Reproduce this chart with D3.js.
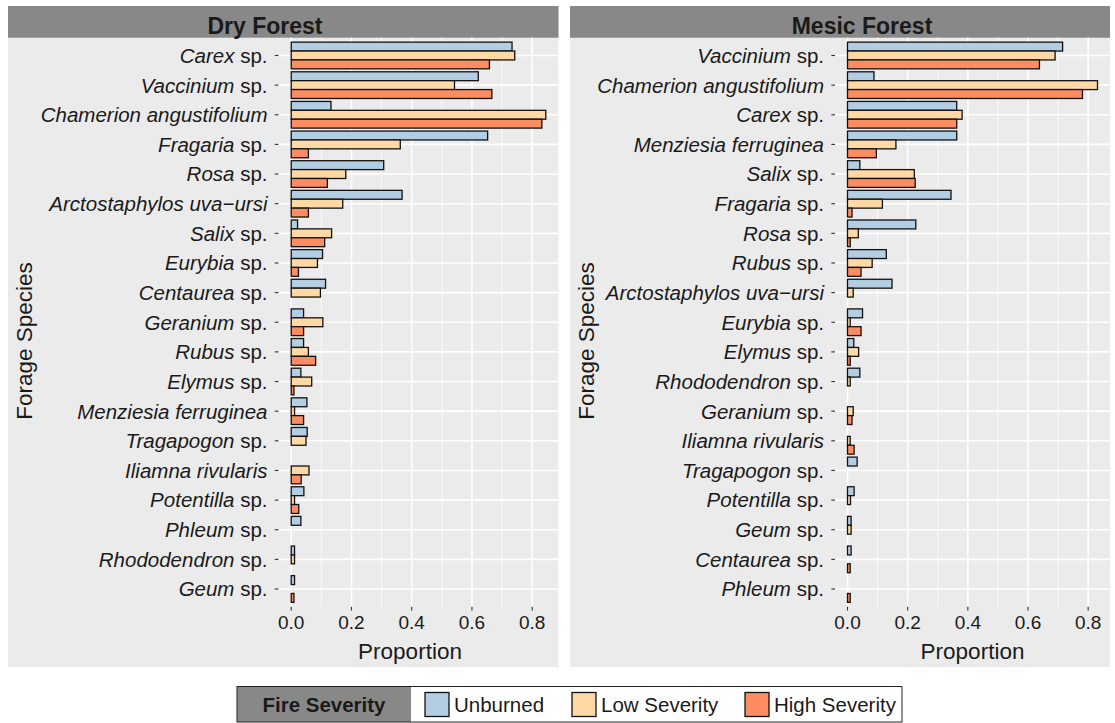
<!DOCTYPE html>
<html>
<head>
<meta charset="utf-8">
<script src="https://cdn.jsdelivr.net/npm/d3@7"></script>
<style>
  html, body { margin: 0; padding: 0; background: #ffffff; }
  svg { display: block; font-family: "Liberation Sans", Arial, Helvetica, sans-serif; }
</style>
</head>
<body>
<svg id="chart" width="1115" height="723"></svg>
<script>
// Forage species, ordered top to bottom within each forest type
const dryCategories = [
  "Carex sp.", "Vaccinium sp.", "Chamerion angustifolium", "Fragaria sp.", "Rosa sp.",
  "Arctostaphylos uva\u2212ursi", "Salix sp.", "Eurybia sp.", "Centaurea sp.", "Geranium sp.",
  "Rubus sp.", "Elymus sp.", "Menziesia ferruginea", "Tragapogon sp.", "Iliamna rivularis",
  "Potentilla sp.", "Phleum sp.", "Rhododendron sp.", "Geum sp."
];
const dryUnburned = [0.733, 0.621, 0.132, 0.652, 0.307, 0.368, 0.021, 0.104, 0.114, 0.041,
  0.041, 0.032, 0.052, 0.053, 0.000, 0.042, 0.032, 0.011, 0.011];
const dryLow = [0.742, 0.542, 0.845, 0.362, 0.181, 0.171, 0.134, 0.087, 0.097, 0.105,
  0.057, 0.068, 0.011, 0.049, 0.059, 0.011, 0.000, 0.011, 0.000];
const dryHigh = [0.658, 0.666, 0.832, 0.057, 0.120, 0.057, 0.111, 0.024, 0.000, 0.041,
  0.081, 0.009, 0.041, 0.000, 0.033, 0.025, 0.000, 0.000, 0.009];

const mesicCategories = [
  "Vaccinium sp.", "Chamerion angustifolium", "Carex sp.", "Menziesia ferruginea", "Salix sp.",
  "Fragaria sp.", "Rosa sp.", "Rubus sp.", "Arctostaphylos uva\u2212ursi", "Eurybia sp.",
  "Elymus sp.", "Rhododendron sp.", "Geranium sp.", "Iliamna rivularis", "Tragapogon sp.",
  "Potentilla sp.", "Geum sp.", "Centaurea sp.", "Phleum sp."
];
const mesicUnburned = [0.715, 0.088, 0.363, 0.363, 0.041, 0.344, 0.227, 0.129, 0.148, 0.050,
  0.021, 0.041, 0.000, 0.000, 0.032, 0.022, 0.012, 0.012, 0.000];
const mesicLow = [0.690, 0.831, 0.381, 0.161, 0.222, 0.116, 0.036, 0.082, 0.019, 0.009,
  0.037, 0.009, 0.019, 0.009, 0.000, 0.010, 0.012, 0.000, 0.000];
const mesicHigh = [0.638, 0.781, 0.363, 0.096, 0.225, 0.015, 0.009, 0.045, 0.000, 0.045,
  0.009, 0.000, 0.015, 0.022, 0.000, 0.000, 0.000, 0.009, 0.009];

const severities = ["Unburned", "Low Severity", "High Severity"];
const severityColors = ["#B3CDE3", "#FED9A6", "#FC8D62"];
const xTicks = [0, 0.2, 0.4, 0.6, 0.8];
const xMinor = [0.1, 0.3, 0.5, 0.7, 0.9];

const svg = d3.select("#chart");
const fill = d3.scaleOrdinal().domain(severities).range(severityColors);

const panels = [
  {
    title: "Dry Forest", cats: dryCategories, series: [dryUnburned, dryLow, dryHigh],
    bg: [8, 558.5], px: [278.5, 558.5], titleX: 265, xTitleX: 410, yTitleX: 24
  },
  {
    title: "Mesic Forest", cats: mesicCategories, series: [mesicUnburned, mesicLow, mesicHigh],
    bg: [570, 1110], px: [835, 1110], titleX: 862, xTitleX: 972.5, yTitleX: 586
  }
];

const bgTop = 6, stripBottom = 37.7, panelBottom = 606.8, bgBottom = 667;

panels.forEach(p => {
  const g = svg.append("g");
  const rows = p.cats.map((c, i) => ({
    cat: c,
    vals: severities.map((s, j) => ({ sev: s, v: p.series[j][i] }))
  }));
  const maxV = d3.max(p.series.flat());

  // grey plot background and title strip
  g.append("rect").attr("x", p.bg[0]).attr("y", bgTop)
    .attr("width", p.bg[1] - p.bg[0]).attr("height", bgBottom - bgTop).attr("fill", "#EBEBEB");
  g.append("rect").attr("x", p.bg[0]).attr("y", bgTop)
    .attr("width", p.bg[1] - p.bg[0]).attr("height", stripBottom - bgTop).attr("fill", "#888888");
  g.append("text").attr("x", p.titleX).attr("y", 34).attr("text-anchor", "middle")
    .attr("font-size", 23).attr("font-weight", "bold").attr("fill", "#1a1a1a").text(p.title);

  const x = d3.scaleLinear().domain([-0.05 * maxV, 1.05 * maxV]).range(p.px);
  const y = d3.scalePoint().domain(p.cats).range([stripBottom, panelBottom]).padding(0.6);
  const step = y.step();
  const sub = d3.scaleBand().domain(severities).range([-0.45 * step, 0.45 * step]);

  // gridlines
  const grid = g.append("g");
  grid.selectAll("line.minor").data(xMinor.filter(t => x(t) <= p.px[1])).join("line")
    .attr("class", "minor")
    .attr("x1", d => x(d)).attr("x2", d => x(d)).attr("y1", stripBottom).attr("y2", panelBottom)
    .attr("stroke", "#ffffff").attr("stroke-width", 0.8);
  grid.selectAll("line.major").data(xTicks).join("line")
    .attr("class", "major")
    .attr("x1", d => x(d)).attr("x2", d => x(d)).attr("y1", stripBottom).attr("y2", panelBottom)
    .attr("stroke", "#ffffff").attr("stroke-width", 1.6);
  grid.selectAll("line.h").data(p.cats).join("line")
    .attr("class", "h")
    .attr("x1", p.px[0]).attr("x2", p.px[1]).attr("y1", d => y(d)).attr("y2", d => y(d))
    .attr("stroke", "#ffffff").attr("stroke-width", 1.6);

  // bars
  const groups = g.append("g").selectAll("g").data(rows).join("g")
    .attr("transform", d => `translate(0,${y(d.cat)})`);
  groups.selectAll("rect").data(d => d.vals).join("rect")
    .attr("x", x(0))
    .attr("y", d => sub(d.sev))
    .attr("width", d => x(d.v) - x(0))
    .attr("height", sub.bandwidth())
    .attr("fill", d => fill(d.sev))
    .attr("stroke", "#111111").attr("stroke-width", 1.3);

  // y axis: ticks and labels with italic genus names
  const yAx = g.append("g");
  yAx.selectAll("line").data(p.cats).join("line")
    .attr("x1", p.px[0] - 3.7).attr("x2", p.px[0]).attr("y1", d => y(d)).attr("y2", d => y(d))
    .attr("stroke", "#333333").attr("stroke-width", 1.1);
  const lab = yAx.selectAll("text").data(p.cats).join("text")
    .attr("x", p.px[0] - 11).attr("y", d => y(d)).attr("dy", "0.36em")
    .attr("text-anchor", "end").attr("font-size", 20.5).attr("fill", "#1a1a1a");
  lab.each(function(d) {
    const t = d3.select(this);
    if (d.endsWith(" sp.")) {
      t.append("tspan").attr("font-style", "italic").text(d.slice(0, -4));
      t.append("tspan").text(" sp.");
    } else {
      t.append("tspan").attr("font-style", "italic").text(d);
    }
  });

  // x axis
  const xAx = g.append("g");
  xAx.selectAll("line").data(xTicks).join("line")
    .attr("x1", d => x(d)).attr("x2", d => x(d)).attr("y1", panelBottom).attr("y2", panelBottom + 3.7)
    .attr("stroke", "#333333").attr("stroke-width", 1.1);
  xAx.selectAll("text").data(xTicks).join("text")
    .attr("x", d => x(d)).attr("y", 628.5).attr("text-anchor", "middle")
    .attr("font-size", 19).attr("fill", "#1a1a1a").text(d3.format(".1f"));

  g.append("text").attr("x", p.xTitleX).attr("y", 658.5).attr("text-anchor", "middle")
    .attr("font-size", 22.5).attr("fill", "#1a1a1a").text("Proportion");
  g.append("text").attr("transform", `translate(${p.yTitleX + 8},341) rotate(-90)`)
    .attr("text-anchor", "middle").attr("font-size", 22.5).attr("fill", "#1a1a1a")
    .text("Forage Species");
});

// legend
const legend = svg.append("g");
legend.append("rect").attr("x", 237).attr("y", 686.5).attr("width", 174).attr("height", 35.5)
  .attr("fill", "#888888");
legend.append("rect").attr("x", 237).attr("y", 686.5).attr("width", 665).attr("height", 35.5)
  .attr("fill", "none").attr("stroke", "#222222").attr("stroke-width", 1);
legend.append("text").attr("x", 324).attr("y", 712).attr("text-anchor", "middle")
  .attr("font-size", 20.5).attr("font-weight", "bold").attr("fill", "#1a1a1a").text("Fire Severity");
const keyX = [425, 572, 745];
const items = legend.selectAll("g.item").data(severities).join("g")
  .attr("class", "item")
  .attr("transform", (d, i) => `translate(${keyX[i]},692.5)`);
items.append("rect").attr("width", 24).attr("height", 24)
  .attr("fill", d => fill(d)).attr("stroke", "#111111").attr("stroke-width", 1.3);
items.append("text").attr("x", 29).attr("y", 19.5).attr("font-size", 20.5)
  .attr("fill", "#1a1a1a").text(d => d);
</script>
</body>
</html>
